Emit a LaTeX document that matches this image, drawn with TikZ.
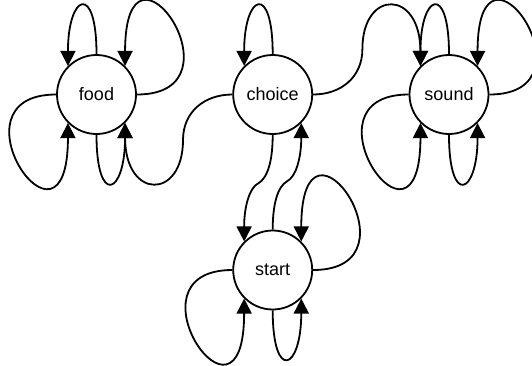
\documentclass[tikz,border=0pt]{standalone}
\usepackage{fontspec}
\setmainfont{Liberation Sans}
\usetikzlibrary{arrows.meta}
\begin{document}
\begin{tikzpicture}[x=1pt,y=-1pt,
  state/.style={circle,draw,line width=1.8pt,minimum size=79pt,inner sep=0pt,
    font=\fontsize{18}{20}\selectfont},
  edge/.style={line width=1.8pt,-{Triangle[length=15pt,width=15pt]}},
  ]
\useasboundingbox (0,0) rectangle (532,365);
% states
\node[state] (food)   at (96.5,94.5)  {food};
\node[state] (choice) at (272.7,94.5) {choice};
\node[state] (sound)  at (449,94.5)   {sound};
\node[state] (start)  at (272.7,270)  {start};
% self loops of food
\draw[edge] (food.north) .. controls +(0,-72) and +(0,-72) .. (food.135);
\draw[edge] (food.east) .. controls +(112,0) and +(0,-152) .. (food.45);
\draw[edge] (food.west) .. controls +(-112,0) and +(0,152) .. (food.225);
\draw[edge] (food.south) .. controls +(0,72) and +(0,72) .. (food.315);
% self loops of sound
\draw[edge] (sound.north) .. controls +(0,-72) and +(0,-72) .. (sound.135);
\draw[edge] (sound.east) .. controls +(112,0) and +(0,-152) .. (sound.45);
\draw[edge] (sound.west) .. controls +(-112,0) and +(0,152) .. (sound.225);
\draw[edge] (sound.south) .. controls +(0,72) and +(0,72) .. (sound.315);
% self loops of choice and start
\draw[edge] (choice.north) .. controls +(0,-72) and +(0,-72) .. (choice.135);
\draw[edge] (start.east) .. controls +(112,0) and +(0,-152) .. (start.45);
\draw[edge] (start.west) .. controls +(-112,0) and +(0,152) .. (start.225);
\draw[edge] (start.south) .. controls +(0,72) and +(0,72) .. (start.315);
% choice -> food
\draw[edge] (choice.west) .. controls +(-28,0) and +(0,-28) .. (183,140)
  .. controls +(0,60) and +(0,77) .. (food.315);
% choice -> sound
\draw[edge] (choice.east) .. controls +(28,0) and +(0,28) .. (362.4,49)
  .. controls +(0,-60) and +(0,-77) .. (sound.135);
% choice -> start
\draw[edge] (choice.south) .. controls +(0,25) and (268,178) .. (258,183.5)
  .. controls (250,187.5) and +(0,-36) .. (start.135);
% start -> choice
\draw[edge] (start.north) .. controls +(0,-25) and (277.4,186.5) .. (287.4,181)
  .. controls (295.4,177) and +(0,36) .. (choice.315);
\end{tikzpicture}
\end{document}
